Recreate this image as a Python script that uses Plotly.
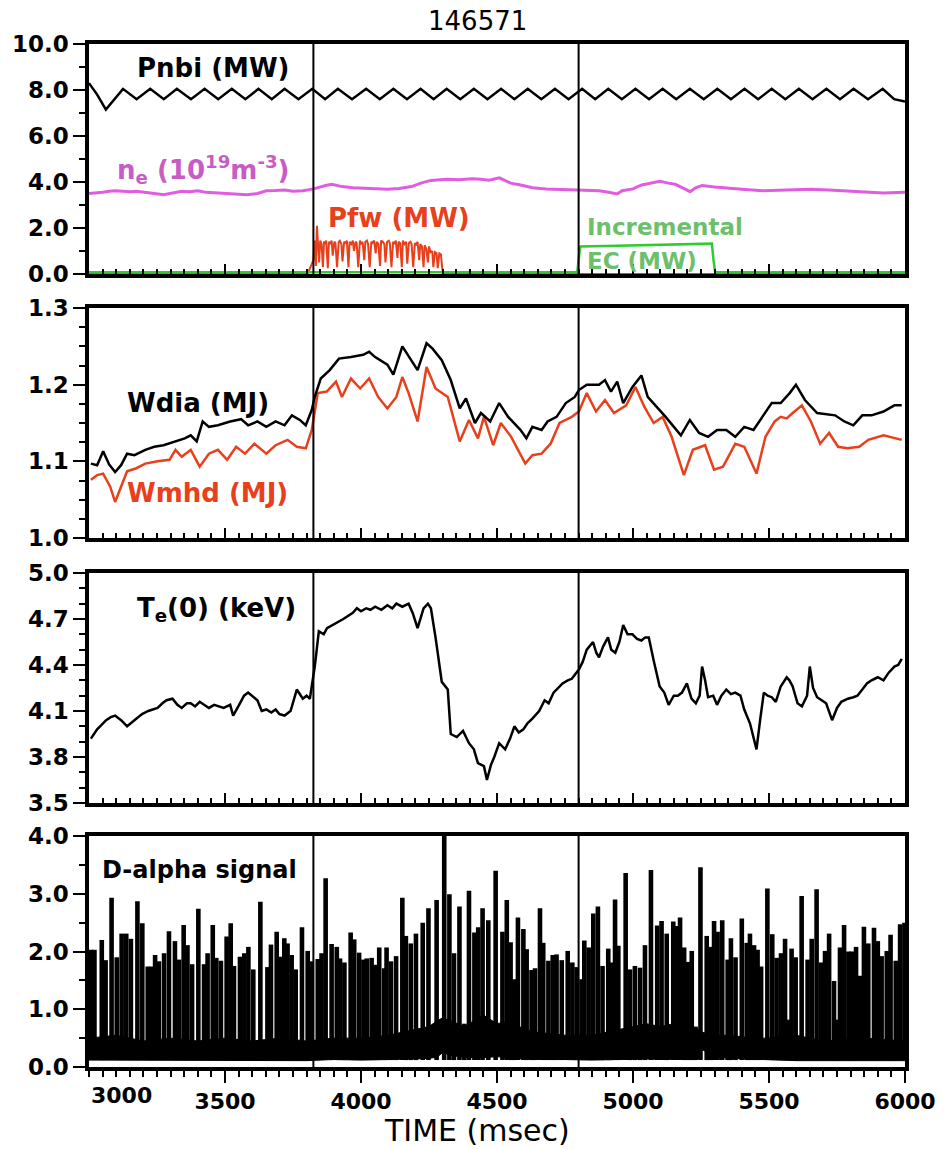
import plotly.graph_objects as go

# ---------------- data ----------------
shot = "146571"
marker_times = [3825, 4800]

# Panel 1: Pnbi (MW)
pnbi_t = [3000, 3030, 3062, 3125, 3175, 3225, 3275, 3323, 3375, 3425, 3475, 3525, 3575,
          3623, 3672, 3719, 3770, 3821, 3868, 3915, 3967, 4019, 4069, 4119, 4169, 4219,
          4267, 4315, 4365, 4415, 4465, 4515, 4564, 4613, 4663, 4713, 4763, 4813, 4861,
          4909, 4959, 5009, 5059, 5109, 5159, 5209, 5260, 5310, 5360, 5410, 5460, 5510,
          5560, 5610, 5660, 5711, 5761, 5811, 5864, 5918, 5960, 6000]
pnbi_v = [8.3, 7.8, 7.15, 8.05, 7.6, 8.05, 7.6, 8.05, 7.6, 8.05, 7.6, 8.05, 7.6,
          8.05, 7.6, 8.05, 7.6, 8.05, 7.6, 8.05, 7.6, 8.05, 7.6, 8.05, 7.6, 8.05,
          7.6, 8.05, 7.6, 8.05, 7.6, 8.05, 7.6, 8.05, 7.6, 8.05, 7.6, 8.05, 7.6,
          8.05, 7.6, 8.05, 7.6, 8.05, 7.6, 8.05, 7.6, 8.05, 7.6, 8.05, 7.6, 8.05,
          7.6, 8.05, 7.6, 8.05, 7.6, 8.05, 7.6, 8.05, 7.6, 7.5]

# Panel 1: line-averaged density (10^19 m^-3)
ne_t = [3000, 3025, 3050, 3075, 3096, 3125, 3150, 3175, 3200, 3240, 3274, 3300, 3341,
        3370, 3400, 3430, 3470, 3519, 3550, 3580, 3620, 3652, 3685, 3719, 3750, 3786,
        3826, 3850, 3870, 3893, 3930, 3970, 4008, 4050, 4097, 4140, 4186, 4220, 4257,
        4290, 4319, 4360, 4408, 4440, 4471, 4509, 4530, 4550, 4587, 4631, 4680, 4720,
        4760, 4798, 4840, 4876, 4910, 4942, 4960, 5000, 5032, 5070, 5099, 5130, 5155,
        5190, 5210, 5230, 5254, 5300, 5343, 5400, 5477, 5550, 5655, 5720, 5766, 5855,
        5920, 6000]
ne_v = [3.5, 3.52, 3.55, 3.6, 3.62, 3.6, 3.58, 3.6, 3.55, 3.5, 3.45, 3.5, 3.6,
        3.58, 3.62, 3.55, 3.52, 3.5, 3.47, 3.45, 3.5, 3.62, 3.63, 3.65, 3.6, 3.62,
        3.7, 3.8, 3.85, 3.9, 3.8, 3.75, 3.73, 3.7, 3.68, 3.72, 3.8, 3.95, 4.07,
        4.1, 4.12, 4.1, 4.14, 4.12, 4.08, 4.18, 4.05, 3.95, 3.87, 3.75, 3.7, 3.68,
        3.66, 3.65, 3.63, 3.62, 3.55, 3.48, 3.62, 3.7, 3.87, 3.95, 4.03, 3.95, 3.9,
        3.7, 3.58, 3.75, 3.85, 3.78, 3.73, 3.68, 3.62, 3.64, 3.68, 3.65, 3.62, 3.55,
        3.52, 3.55]

# Panel 1: fast-wave power (MW)
pfw_t = [3000, 3790, 3805, 3815, 3825, 3830, 3834, 3838, 3842, 3846, 3850, 3855, 3860,
         3864, 3868, 3872, 3878, 3882, 3886, 3892, 3896, 3902, 3906, 3912, 3918, 3922,
         3928, 3932, 3938, 3944, 3948, 3954, 3958, 3964, 3970, 3974, 3980, 3984, 3990,
         3996, 4000, 4006, 4012, 4016, 4022, 4026, 4032, 4038, 4042, 4048, 4054, 4058,
         4064, 4070, 4074, 4080, 4086, 4090, 4096, 4102, 4106, 4112, 4118, 4122, 4128,
         4134, 4138, 4144, 4150, 4154, 4160, 4166, 4170, 4176, 4182, 4186, 4192, 4198,
         4202, 4208, 4214, 4218, 4224, 4230, 4234, 4240, 4246, 4250, 4256, 4262, 4266,
         4272, 4278, 4282, 4288, 4294, 4298, 4302, 4310, 6000]
pfw_v = [0.0, 0.0, 0.05, 0.35, 0.6, 1.45, 0.35, 2.1, 1.4, 0.5, 1.45, 1.3, 0.3,
         1.4, 1.35, 1.45, 0.25, 1.4, 1.3, 1.45, 0.8, 1.4, 1.35, 0.3, 1.4, 1.45,
         1.3, 0.55, 1.4, 1.35, 1.45, 0.3, 1.4, 1.3, 1.45, 1.0, 1.4, 1.35, 0.3,
         1.45, 1.3, 1.4, 0.6, 1.4, 1.45, 1.3, 0.3, 1.4, 1.35, 1.45, 0.9, 1.4,
         1.3, 0.35, 1.45, 1.4, 1.3, 0.5, 1.4, 1.45, 1.35, 0.3, 1.4, 1.3, 1.45,
         0.7, 1.4, 1.35, 0.3, 1.45, 1.3, 1.4, 0.45, 1.35, 1.4, 1.3, 0.3, 1.35,
         1.25, 1.4, 0.6, 1.3, 1.2, 0.3, 1.25, 1.1, 0.5, 1.2, 0.95, 1.0, 0.3,
         0.95, 0.9, 0.25, 0.9, 0.85, 0.3, 0.0, 0.0, 0.0]

# Panel 1: incremental EC power (MW)
ec_t = [3000, 4795, 4800, 4806, 4900, 5000, 5100, 5200, 5290, 5296, 5302, 6000]
ec_v = [0.08, 0.08, 0.6, 1.2, 1.22, 1.25, 1.28, 1.3, 1.32, 0.6, 0.08, 0.08]

# Panel 2: stored energy (MJ)
w_t = [3007, 3030, 3052, 3074, 3096, 3118, 3140, 3167, 3207, 3240, 3274, 3318, 3352,
       3374, 3396, 3418, 3441, 3474, 3519, 3559, 3585, 3619, 3652, 3686, 3719, 3746,
       3775, 3797, 3819, 3830, 3852, 3885, 3919, 3963, 4008, 4030, 4052, 4097, 4119,
       4152, 4186, 4208, 4241, 4263, 4297, 4330, 4363, 4386, 4419, 4441, 4475, 4508,
       4541, 4586, 4608, 4630, 4664, 4686, 4719, 4753, 4786, 4801, 4830, 4875, 4897,
       4919, 4942, 4964, 4998, 5031, 5054, 5087, 5120, 5176, 5209, 5243, 5276, 5309,
       5343, 5376, 5409, 5443, 5476, 5510, 5543, 5576, 5599, 5632, 5677, 5743, 5777,
       5810, 5843, 5877, 5921, 5961, 5988]
wdia_v = [1.097, 1.095, 1.113, 1.096, 1.086, 1.095, 1.11, 1.108, 1.115, 1.119, 1.121,
          1.126, 1.13, 1.134, 1.126, 1.152, 1.145, 1.147, 1.152, 1.155, 1.147, 1.152,
          1.145, 1.152, 1.147, 1.16, 1.154, 1.147, 1.167, 1.184, 1.208, 1.219, 1.234,
          1.236, 1.239, 1.243, 1.236, 1.226, 1.213, 1.25, 1.232, 1.219, 1.254, 1.247,
          1.232, 1.206, 1.169, 1.182, 1.15, 1.163, 1.152, 1.176, 1.158, 1.141, 1.13,
          1.145, 1.141, 1.152, 1.158, 1.176, 1.184, 1.193, 1.2, 1.2, 1.206, 1.191,
          1.204, 1.176, 1.197, 1.212, 1.184, 1.171, 1.158, 1.134, 1.154, 1.137, 1.132,
          1.141, 1.141, 1.132, 1.145, 1.141, 1.158, 1.176, 1.176, 1.189, 1.2, 1.18,
          1.163, 1.16, 1.152, 1.147, 1.16, 1.16, 1.165, 1.173, 1.173]
wmhd_t = [3007, 3030, 3052, 3078, 3096, 3118, 3140, 3174, 3207, 3252, 3296, 3318, 3341,
          3374, 3407, 3441, 3474, 3508, 3541, 3574, 3608, 3652, 3686, 3730, 3764, 3797,
          3819, 3841, 3874, 3908, 3930, 3963, 3997, 4030, 4063, 4097, 4130, 4152, 4175,
          4208, 4241, 4274, 4319, 4363, 4397, 4430, 4452, 4486, 4514, 4552, 4586, 4604,
          4630, 4664, 4697, 4730, 4775, 4801, 4830, 4864, 4897, 4930, 4975, 5009, 5042,
          5076, 5109, 5142, 5187, 5220, 5265, 5298, 5331, 5376, 5409, 5454, 5487, 5521,
          5543, 5565, 5587, 5621, 5654, 5688, 5721, 5754, 5788, 5832, 5865, 5921, 5988]
wmhd_v = [1.076, 1.082, 1.084, 1.067, 1.047, 1.067, 1.087, 1.091, 1.097, 1.1, 1.102,
          1.115, 1.106, 1.115, 1.093, 1.11, 1.115, 1.102, 1.119, 1.11, 1.123, 1.11,
          1.121, 1.128, 1.119, 1.117, 1.141, 1.189, 1.191, 1.204, 1.184, 1.208, 1.195,
          1.208, 1.184, 1.169, 1.184, 1.21, 1.189, 1.152, 1.223, 1.195, 1.184, 1.126,
          1.154, 1.13, 1.158, 1.121, 1.15, 1.132, 1.11, 1.097, 1.108, 1.11, 1.123,
          1.15, 1.158, 1.165, 1.189, 1.165, 1.18, 1.163, 1.173, 1.197, 1.171, 1.15,
          1.158, 1.132, 1.082, 1.115, 1.121, 1.089, 1.093, 1.123, 1.119, 1.084, 1.132,
          1.152, 1.158, 1.156, 1.163, 1.173, 1.152, 1.123, 1.137, 1.119, 1.117, 1.119,
          1.128, 1.134, 1.128]

# Panel 3: central electron temperature (keV)
te_t = [3007, 3030, 3063, 3080, 3096, 3118, 3140, 3160, 3174, 3195, 3218, 3235, 3252,
        3270, 3285, 3307, 3325, 3341, 3360, 3374, 3390, 3407, 3425, 3441, 3460, 3474,
        3495, 3519, 3530, 3552, 3570, 3585, 3600, 3619, 3635, 3652, 3670, 3686, 3700,
        3719, 3741, 3764, 3786, 3800, 3812, 3830, 3845, 3863, 3875, 3885, 3900, 3919,
        3935, 3952, 3970, 3985, 4000, 4019, 4035, 4052, 4075, 4097, 4115, 4130, 4152,
        4175, 4190, 4208, 4230, 4246, 4257, 4274, 4297, 4319, 4330, 4352, 4375, 4397,
        4415, 4430, 4452, 4463, 4478, 4490, 4508, 4530, 4548, 4564, 4580, 4597, 4612,
        4630, 4655, 4675, 4690, 4708, 4725, 4741, 4760, 4775, 4801, 4815, 4830, 4853,
        4865, 4875, 4890, 4908, 4920, 4935, 4950, 4964, 4980, 4998, 5015, 5031, 5045,
        5058, 5076, 5098, 5115, 5131, 5150, 5165, 5180, 5198, 5215, 5231, 5245, 5254,
        5265, 5276, 5295, 5309, 5325, 5343, 5360, 5376, 5395, 5409, 5430, 5445, 5454,
        5468, 5481, 5495, 5510, 5525, 5543, 5565, 5575, 5587, 5605, 5621, 5640, 5650,
        5662, 5677, 5695, 5710, 5732, 5750, 5766, 5790, 5810, 5825, 5843, 5860, 5877,
        5900, 5921, 5940, 5961, 5975, 5988]
te_v = [3.92, 3.98, 4.04, 4.06, 4.07, 4.04, 4.0, 4.03, 4.05, 4.08, 4.1, 4.11, 4.12,
        4.15, 4.17, 4.18, 4.14, 4.12, 4.15, 4.15, 4.13, 4.16, 4.14, 4.12, 4.14, 4.13,
        4.12, 4.14, 4.07, 4.14, 4.2, 4.22, 4.2, 4.17, 4.1, 4.11, 4.09, 4.11, 4.08,
        4.07, 4.1, 4.24, 4.18, 4.2, 4.18, 4.39, 4.62, 4.6, 4.64, 4.65, 4.66, 4.68,
        4.7, 4.72, 4.74, 4.77, 4.75, 4.77, 4.76, 4.78, 4.76, 4.79, 4.77, 4.8, 4.78,
        4.8, 4.74, 4.64, 4.77, 4.8, 4.77, 4.58, 4.29, 4.24, 3.95, 3.93, 3.97, 3.89,
        3.85, 3.76, 3.74, 3.65, 3.75, 3.8, 3.89, 3.85, 3.92, 4.0, 3.96, 3.98, 4.02,
        4.05, 4.1, 4.17, 4.15, 4.22, 4.25, 4.28, 4.3, 4.31, 4.37, 4.42, 4.5, 4.55,
        4.48, 4.45, 4.52, 4.58, 4.5, 4.48, 4.55, 4.66, 4.6, 4.6, 4.57, 4.56, 4.58,
        4.58, 4.43, 4.26, 4.22, 4.14, 4.2, 4.2, 4.22, 4.28, 4.18, 4.15, 4.2, 4.39,
        4.3, 4.19, 4.2, 4.14, 4.2, 4.24, 4.21, 4.22, 4.2, 4.11, 4.02, 3.92, 3.85,
        4.05, 4.22, 4.2, 4.19, 4.16, 4.26, 4.32, 4.3, 4.26, 4.15, 4.13, 4.2, 4.39,
        4.25, 4.19, 4.17, 4.15, 4.04, 4.12, 4.16, 4.18, 4.19, 4.2, 4.24, 4.28, 4.3,
        4.32, 4.3, 4.35, 4.39, 4.4, 4.44]

# Panel 4: D-alpha ELM spikes (time, peak)
elm_t = [3007, 3020, 3047, 3061, 3083, 3102, 3120, 3137, 3154, 3178, 3196, 3216, 3230,
         3243, 3257, 3276, 3294, 3316, 3331, 3348, 3362, 3379, 3402, 3423, 3436, 3455,
         3468, 3485, 3506, 3521, 3533, 3555, 3571, 3586, 3604, 3630, 3656, 3669, 3690,
         3702, 3718, 3730, 3745, 3760, 3783, 3804, 3819, 3841, 3855, 3870, 3892, 3911,
         3923, 3939, 3962, 3975, 3993, 4009, 4021, 4039, 4052, 4067, 4085, 4094, 4110,
         4129, 4152, 4165, 4183, 4202, 4227, 4248, 4278, 4306, 4325, 4342, 4362, 4380,
         4397, 4417, 4431, 4447, 4468, 4495, 4520, 4536, 4550, 4563, 4577, 4597, 4609,
         4627, 4640, 4658, 4670, 4689, 4705, 4719, 4738, 4760, 4777, 4793, 4811, 4821,
         4837, 4854, 4871, 4888, 4909, 4918, 4934, 4946, 4973, 4989, 5007, 5026, 5044,
         5066, 5089, 5105, 5124, 5148, 5163, 5173, 5188, 5201, 5216, 5230, 5248, 5271,
         5286, 5298, 5311, 5328, 5348, 5360, 5377, 5400, 5418, 5430, 5445, 5458, 5471,
         5494, 5512, 5528, 5544, 5559, 5569, 5583, 5598, 5620, 5642, 5657, 5675, 5691,
         5706, 5721, 5739, 5749, 5761, 5776, 5792, 5804, 5820, 5835, 5849, 5865, 5886,
         5900, 5914, 5933, 5947, 5966, 5982, 5998]
elm_v = [2.03, 2.03, 2.2, 1.85, 2.93, 1.9, 2.31, 2.31, 2.22, 2.87, 2.49, 1.74, 1.74,
         1.94, 1.83, 1.97, 2.35, 2.18, 1.86, 2.46, 2.11, 1.78, 2.74, 1.78, 1.97, 2.46,
         1.89, 1.84, 2.26, 2.49, 1.75, 1.91, 1.97, 2.08, 1.69, 2.86, 1.73, 2.12, 2.34,
         1.91, 2.23, 2.14, 1.94, 1.69, 2.42, 2.01, 1.83, 1.87, 1.97, 3.27, 2.13, 2.08,
         1.88, 1.81, 2.33, 2.21, 1.98, 1.86, 1.88, 1.89, 1.77, 2.07, 1.71, 2.07, 1.83,
         1.92, 2.93, 2.27, 2.14, 2.31, 2.5, 2.75, 2.89, 4.5, 2.99, 1.97, 2.78, 0.75,
         3.05, 2.33, 2.42, 2.75, 2.54, 3.4, 2.34, 2.89, 2.16, 1.52, 2.59, 2.39, 2.04,
         1.68, 1.71, 2.75, 2.15, 1.84, 1.94, 1.95, 1.85, 2.01, 1.81, 1.73, 1.52, 2.19,
         2.07, 2.66, 2.78, 1.75, 2.05, 1.81, 2.9, 2.1, 3.36, 1.69, 1.75, 1.72, 2.11,
         3.41, 2.45, 2.53, 2.31, 2.52, 2.44, 2.59, 2.07, 1.82, 2.01, 0.7, 3.46, 2.27,
         2.08, 2.53, 2.34, 2.54, 1.86, 2.23, 1.9, 2.57, 2.15, 2.31, 2.11, 2.03, 1.74,
         3.09, 2.3, 1.89, 1.97, 2.22, 0.82, 2.05, 1.9, 2.96, 1.86, 2.22, 3.08, 1.81,
         2.01, 2.31, 1.49, 0.82, 2.07, 2.46, 2.0, 2.0, 2.08, 1.58, 2.43, 2.14, 2.41,
         2.18, 1.92, 2.01, 2.29, 1.84, 2.47, 2.5]

# Panel 4: inter-ELM D-alpha band (lower / upper edge)
band_t = [3000, 3100, 3200, 3300, 3400, 3500, 3600, 3700, 3800, 3900, 4000, 4100, 4150,
          4200, 4250, 4280, 4300, 4330, 4380, 4450, 4500, 4550, 4600, 4650, 4750, 4850,
          4950, 5000, 5050, 5100, 5150, 5200, 5240, 5255, 5300, 5350, 5450, 5500, 5600,
          5700, 5850, 6000]
band_lo = [0.12, 0.12, 0.12, 0.11, 0.11, 0.12, 0.12, 0.11, 0.11, 0.13, 0.12, 0.13, 0.13,
           0.14, 0.15, 0.17, 0.25, 0.2, 0.17, 0.16, 0.18, 0.15, 0.14, 0.13, 0.13, 0.12,
           0.13, 0.14, 0.14, 0.13, 0.13, 0.13, 0.14, 0.3, 0.18, 0.15, 0.13, 0.12, 0.11,
           0.11, 0.11, 0.11]
band_hi = [0.5, 0.55, 0.45, 0.5, 0.45, 0.5, 0.45, 0.5, 0.45, 0.5, 0.5, 0.55, 0.6,
           0.65, 0.7, 0.8, 0.85, 0.8, 0.7, 0.9, 0.75, 0.8, 0.65, 0.6, 0.55, 0.55,
           0.65, 0.7, 0.75, 0.7, 0.75, 0.65, 0.65, 0.6, 0.55, 0.55, 0.5, 0.5, 0.55,
           0.45, 0.5, 0.45]

# Axis ticks
x_tickvals = [3500, 4000, 4500, 5000, 5500, 6000]
x_ticktext = ["3500", "4000", "4500", "5000", "5500", "6000"]
x_first_label = "3000"
y1_ticks = [0.0, 2.0, 4.0, 6.0, 8.0, 10.0]
y2_ticks = [1.0, 1.1, 1.2, 1.3]
y3_ticks = [3.5, 3.8, 4.1, 4.4, 4.7, 5.0]
y4_ticks = [0.0, 1.0, 2.0, 3.0, 4.0]

# ---------------- layout helpers ----------------
W, H = 949, 1149
L, R, T, B = 89, 44, 44, 82
plot_h = H - T - B
panels_px = [(44, 274), (308, 538), (573, 803), (836, 1067)]


def dom(top_px, bot_px):
    return [(H - B - bot_px) / plot_h, (H - B - top_px) / plot_h]


BLACK = "#000000"
RED = "#e8401c"
MAG = "#e05ce0"
GREEN = "#2ecc2e"
FONT = "DejaVu Sans"

fig = go.Figure()

# Panel 1
fig.add_trace(go.Scatter(x=pfw_t, y=pfw_v, mode="lines", line=dict(color=RED, width=2),
                         xaxis="x", yaxis="y", showlegend=False))
fig.add_trace(go.Scatter(x=ec_t, y=ec_v, mode="lines", line=dict(color=GREEN, width=2.5),
                         xaxis="x", yaxis="y", showlegend=False))
fig.add_trace(go.Scatter(x=ne_t, y=ne_v, mode="lines", line=dict(color=MAG, width=3),
                         xaxis="x", yaxis="y", showlegend=False))
fig.add_trace(go.Scatter(x=pnbi_t, y=pnbi_v, mode="lines", line=dict(color=BLACK, width=2.5),
                         xaxis="x", yaxis="y", showlegend=False))

# Panel 2
fig.add_trace(go.Scatter(x=wmhd_t, y=wmhd_v, mode="lines", line=dict(color=RED, width=2.5),
                         xaxis="x2", yaxis="y2", showlegend=False))
fig.add_trace(go.Scatter(x=w_t, y=wdia_v, mode="lines", line=dict(color=BLACK, width=2.5),
                         xaxis="x2", yaxis="y2", showlegend=False))

# Panel 3
fig.add_trace(go.Scatter(x=te_t, y=te_v, mode="lines", line=dict(color=BLACK, width=2.5),
                         xaxis="x3", yaxis="y3", showlegend=False))

# Panel 4: band + spikes
fig.add_trace(go.Scatter(x=band_t, y=band_lo, mode="lines", line=dict(color=BLACK, width=1),
                         xaxis="x4", yaxis="y4", showlegend=False))
fig.add_trace(go.Scatter(x=band_t, y=band_hi, mode="lines", line=dict(color=BLACK, width=1),
                         fill="tonexty", fillcolor=BLACK,
                         xaxis="x4", yaxis="y4", showlegend=False))
sx, sy = [], []
for t, v in zip(elm_t, elm_v):
    sx += [t, t, None]
    sy += [0.12, v, None]
fig.add_trace(go.Scatter(x=sx, y=sy, mode="lines", line=dict(color=BLACK, width=4.6),
                         xaxis="x4", yaxis="y4", showlegend=False, connectgaps=False))

tickfont = dict(family=FONT, size=23, color=BLACK, weight="bold")
layout = dict(width=W, height=H, margin=dict(l=L, r=R, t=T, b=B),
              paper_bgcolor="white", plot_bgcolor="white", showlegend=False)

yticks = [y1_ticks, y2_ticks, y3_ticks, y4_ticks]
yranges = [[0, 10], [1.0, 1.3], [3.5, 5.0], [0, 4.0]]
yminor = [1.0, 0.025, 0.1, 0.5]
for i in range(4):
    sfx = "" if i == 0 else str(i + 1)
    last = i == 3
    layout["xaxis" + sfx] = dict(
        domain=[0, 1], range=[3000, 6000], anchor="y" + sfx,
        matches=None if i == 0 else "x",
        tickvals=x_tickvals, ticktext=x_ticktext, showticklabels=last,
        ticks="outside" if last else "inside", ticklen=12 if last else 10,
        tickwidth=2, tickcolor=BLACK,
        minor=dict(dtick=50, tick0=3000, ticks="outside" if last else "inside",
                   ticklen=6 if last else 5, tickwidth=2, tickcolor=BLACK, showgrid=False),
        showline=True, linewidth=3.5, linecolor=BLACK, mirror=True,
        showgrid=False, zeroline=False,
        tickfont=dict(family=FONT, size=22, color=BLACK, weight="bold"))
    layout["yaxis" + sfx] = dict(
        domain=dom(*panels_px[i]), range=yranges[i], anchor="x" + sfx,
        tickvals=yticks[i], ticktext=["%.1f" % v for v in yticks[i]],
        ticks="outside", ticklen=12, tickwidth=2, tickcolor=BLACK,
        minor=dict(dtick=yminor[i], tick0=yranges[i][0], ticks="outside", ticklen=6,
                   tickwidth=2, tickcolor=BLACK, showgrid=False),
        showline=True, linewidth=3.5, linecolor=BLACK, mirror=True,
        showgrid=False, zeroline=False, tickfont=tickfont)

shapes = []
for i in range(4):
    sfx = "" if i == 0 else str(i + 1)
    for mt in marker_times:
        shapes.append(dict(type="line", xref="x" + sfx, yref="y%s domain" % sfx,
                           x0=mt, x1=mt, y0=0, y1=1, line=dict(color=BLACK, width=2)))
layout["shapes"] = shapes

lab = dict(family=FONT, size=26)
ann = [
    dict(text=shot, xref="paper", yref="paper", x=0.4755, y=1.0, yshift=6, showarrow=False,
         xanchor="center", yanchor="bottom", font=dict(family=FONT, size=26, color=BLACK)),
    dict(text="TIME (msec)", xref="paper", yref="paper", x=0.4755, y=0, yshift=-44,
         showarrow=False, xanchor="center", yanchor="top",
         font=dict(family=FONT, size=30, color=BLACK)),
    dict(text=x_first_label, xref="x4", yref="paper", x=3000, y=0, yshift=-14, showarrow=False,
         xanchor="left", yanchor="top", font=dict(family=FONT, size=22, color=BLACK, weight="bold")),
    dict(text="<b>Pnbi (MW)</b>", xref="x", yref="y", x=3169, y=8.96, showarrow=False,
         xanchor="left", yanchor="middle", font=dict(lab, color=BLACK)),
    dict(text="<b>n<sub>e</sub> (10<sup>19</sup>m<sup>-3</sup>)</b>", xref="x", yref="y",
         x=3096, y=4.55, showarrow=False, xanchor="left", yanchor="middle",
         font=dict(lab, color="#c75cc7")),
    dict(text="<b>Pfw (MW)</b>", xref="x", yref="y", x=3872, y=2.43, showarrow=False,
         xanchor="left", yanchor="middle", font=dict(lab, color=RED)),
    dict(text="<b>Incremental</b>", xref="x", yref="y", x=4822, y=2.04, showarrow=False,
         xanchor="left", yanchor="middle", font=dict(family=FONT, size=23, color="#6cc06c")),
    dict(text="<b>EC (MW)</b>", xref="x", yref="y", x=4822, y=0.55, showarrow=False,
         xanchor="left", yanchor="middle", font=dict(family=FONT, size=23, color="#6cc06c")),
    dict(text="<b>Wdia (MJ)</b>", xref="x2", yref="y2", x=3132, y=1.176, showarrow=False,
         xanchor="left", yanchor="middle", font=dict(lab, color=BLACK)),
    dict(text="<b>Wmhd (MJ)</b>", xref="x2", yref="y2", x=3132, y=1.059, showarrow=False,
         xanchor="left", yanchor="middle", font=dict(lab, color=RED)),
    dict(text="<b>T<sub>e</sub>(0) (keV)</b>", xref="x3", yref="y3", x=3169, y=4.76,
         showarrow=False, xanchor="left", yanchor="middle", font=dict(lab, color=BLACK)),
    dict(text="<b>D-alpha signal</b>", xref="x4", yref="y4", x=3040, y=3.41, showarrow=False,
         xanchor="left", yanchor="middle", font=dict(family=FONT, size=24, color=BLACK),
         bgcolor="white"),
]
layout["annotations"] = ann

fig.update_layout(**layout)
fig.write_html("out.html")
